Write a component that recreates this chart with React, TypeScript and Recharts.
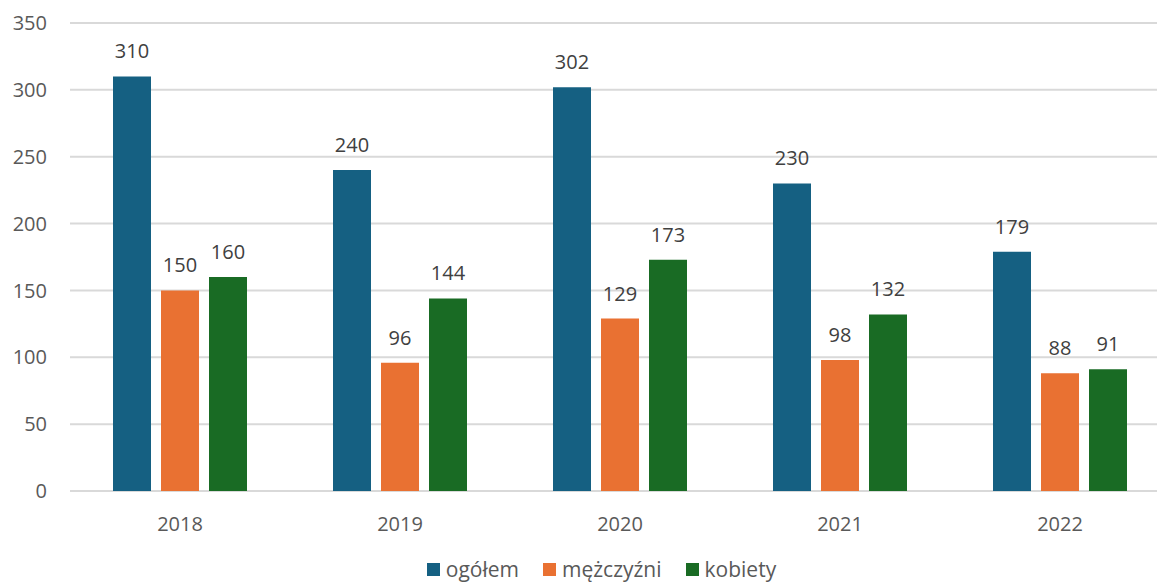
import { BarChart, Bar, XAxis, YAxis, CartesianGrid, Legend, LabelList } from 'recharts';

const years = ['2018', '2019', '2020', '2021', '2022'];
const ogolem = [310, 240, 302, 230, 179];
const mezczyzni = [150, 96, 129, 98, 88];
const kobiety = [160, 144, 173, 132, 91];
const yTicks = [0, 50, 100, 150, 200, 250, 300, 350];

const series = [
  { key: 'ogolem', name: 'ogółem', color: '#156082' },
  { key: 'mezczyzni', name: 'mężczyźni', color: '#E97132' },
  { key: 'kobiety', name: 'kobiety', color: '#196B24' },
];

const data = years.map((year, i) => ({
  year,
  ogolem: ogolem[i],
  mezczyzni: mezczyzni[i],
  kobiety: kobiety[i],
}));

const FONT = '"Open Sans", sans-serif';

// legenda jak w Excelu: kwadracik + tekst
const CustomLegend = () => (
  <div style={{ display: 'flex', justifyContent: 'center', height: 24, fontFamily: FONT, fontSize: 21, color: '#595959' }}>
    {series.map((s) => (
      <div key={s.key} style={{ display: 'flex', alignItems: 'center', margin: '0 12px', lineHeight: '24px' }}>
        <div style={{ width: 13, height: 13, backgroundColor: s.color, marginRight: 6 }} />
        <span>{s.name}</span>
      </div>
    ))}
  </div>
);

export default function App() {
  return (
    <div style={{ position: 'absolute', left: 0, top: 0, width: 1157, height: 585, overflow: 'hidden', background: '#fff' }}>
      <BarChart
        width={1170}
        height={585}
        data={data}
        margin={{ top: 23, right: 0, bottom: 0, left: 0 }}
        barGap={10}
        barSize={38}
      >
        <CartesianGrid vertical={false} stroke="#d9d9d9" strokeWidth={2} />
        <XAxis
          dataKey="year"
          axisLine={false}
          tickLine={false}
          tickSize={0}
          tickMargin={26}
          height={70}
          tick={{ fill: '#595959', fontSize: 20, fontFamily: FONT }}
        />
        <YAxis
          domain={[0, 350]}
          ticks={yTicks}
          axisLine={false}
          tickLine={false}
          tickSize={0}
          tickMargin={23}
          width={70}
          tick={{ fill: '#595959', fontSize: 20, fontFamily: FONT }}
        />
        <Legend content={<CustomLegend />} wrapperStyle={{ left: 23, width: 1157, bottom: 4 }} />
        {series.map((s) => (
          <Bar key={s.key} dataKey={s.key} name={s.name} fill={s.color} isAnimationActive={false}>
            <LabelList dataKey={s.key} position="top" offset={18} fill="#404040" fontSize={20} fontFamily={FONT} />
          </Bar>
        ))}
      </BarChart>
    </div>
  );
}
